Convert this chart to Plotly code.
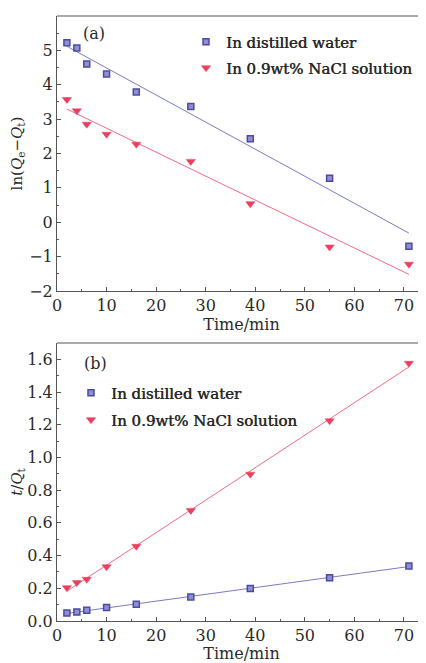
import numpy as np
import plotly.graph_objects as go

time_min = [2, 4, 6, 10, 16, 27, 39, 55, 71]
ln_water = [5.22, 5.07, 4.60, 4.31, 3.79, 3.37, 2.43, 1.28, -0.70]
ln_nacl = [3.57, 3.24, 2.85, 2.56, 2.27, 1.77, 0.54, -0.72, -1.22]
tq_water = [0.049, 0.055, 0.065, 0.082, 0.102, 0.147, 0.198, 0.265, 0.337]
tq_nacl = [0.204, 0.235, 0.255, 0.331, 0.457, 0.676, 0.898, 1.224, 1.576]
series_names = ["In distilled water", "In 0.9wt% NaCl solution"]
x_ticks = [0, 10, 20, 30, 40, 50, 60, 70]
ya_ticks = [-2, -1, 0, 1, 2, 3, 4, 5, 6]
yb_ticks = [0.0, 0.2, 0.4, 0.6, 0.8, 1.0, 1.2, 1.4, 1.6]

BLUE = "#4b4ba6"
BLUE_LINE = "#7b7bbf"
RED = "#ea3f5e"
RED_LINE = "#f26b80"
FONT = "DejaVu Serif"
TXT = "#2a2a2a"

def fit(x, y):
    k, b = np.polyfit(np.array(x, float), np.array(y, float), 1)
    xs = np.array([min(x), max(x)], float)
    return xs, k * xs + b

fig = go.Figure()

sq = dict(symbol="square", size=6, color="#8f8fd0", line=dict(color=BLUE, width=1.5))
tri = dict(symbol="triangle-down", size=8, color=RED, line=dict(color=RED, width=0.5))

# panel (a)
for yv, col in [(ln_water, BLUE_LINE), (ln_nacl, RED_LINE)]:
    fx, fy = fit(time_min, yv)
    fig.add_trace(go.Scatter(x=fx, y=fy, mode="lines", line=dict(color=col, width=1),
                             showlegend=False, xaxis="x", yaxis="y", hoverinfo="skip"))
fig.add_trace(go.Scatter(x=time_min, y=ln_water, mode="markers", marker=sq, name=series_names[0],
                         xaxis="x", yaxis="y", legend="legend"))
fig.add_trace(go.Scatter(x=time_min, y=ln_nacl, mode="markers", marker=tri, name=series_names[1],
                         xaxis="x", yaxis="y", legend="legend2"))

# panel (b)
for yv, col in [(tq_water, BLUE_LINE), (tq_nacl, RED_LINE)]:
    fx, fy = fit(time_min, yv)
    fig.add_trace(go.Scatter(x=fx, y=fy, mode="lines", line=dict(color=col, width=1),
                             showlegend=False, xaxis="x2", yaxis="y2", hoverinfo="skip"))
fig.add_trace(go.Scatter(x=time_min, y=tq_water, mode="markers", marker=sq, name=series_names[0],
                         xaxis="x2", yaxis="y2", legend="legend3"))
fig.add_trace(go.Scatter(x=time_min, y=tq_nacl, mode="markers", marker=tri, name=series_names[1],
                         xaxis="x2", yaxis="y2", legend="legend4"))

axis_common = dict(showline=True, linecolor="#555", linewidth=1, ticks="inside", ticklen=4,
                   tickcolor="#555", showgrid=False, zeroline=False, automargin=False,
                   tickfont=dict(family=FONT, size=16, color=TXT))
xr = [0, 74.45]
title_font = dict(family=FONT, size=16, color=TXT)
ytitle_font = dict(family=FONT, size=15, color=TXT)
fig.update_layout(
    xaxis=dict(axis_common, range=xr, tickvals=x_ticks, anchor="y", domain=[0, 1],
               minor=dict(dtick=5, ticks="inside", ticklen=2, tickcolor="#555"),
               title=dict(text="Time/min", font=title_font, standoff=4)),
    yaxis=dict(axis_common, range=[-2, 6], tickvals=ya_ticks, anchor="x", domain=[0.5455, 1],
               minor=dict(dtick=0.5, ticks="inside", ticklen=2, tickcolor="#555"),
               title=dict(text="ln(<i>Q</i><sub>e</sub>−<i>Q</i><sub>t</sub>)",
                          font=ytitle_font, standoff=6)),
    xaxis2=dict(axis_common, range=xr, tickvals=x_ticks, anchor="y2", domain=[0, 1],
                minor=dict(dtick=5, ticks="inside", ticklen=2, tickcolor="#555"),
                title=dict(text="Time/min", font=title_font, standoff=2)),
    yaxis2=dict(axis_common, range=[0, 1.7], tickvals=yb_ticks, tickformat=".1f", anchor="x2",
                domain=[0, 0.4595],
                minor=dict(dtick=0.1, ticks="inside", ticklen=2, tickcolor="#555"),
                title=dict(text="<i>t</i>/<i>Q</i><sub>t</sub>", font=ytitle_font, standoff=14)),
    width=418, height=655,
    margin=dict(l=49, r=0, t=8, b=42, autoexpand=False),
    paper_bgcolor="white", plot_bgcolor="white",
    shapes=[
        dict(type="line", xref="paper", yref="y domain", x0=0, x1=1, y0=1, y1=1,
             line=dict(color="#555", width=1)),
        dict(type="line", xref="paper", yref="y2 domain", x0=0, x1=1, y0=1, y1=1,
             line=dict(color="#555", width=1)),
    ],
    annotations=[
        dict(text="(a)", xref="paper", yref="paper", x=(94 - 57) / 369, y=(663 - 42 - 34) / 605,
             xanchor="center", yanchor="middle",
             showarrow=False, font=dict(family=FONT, size=16, color=TXT)),
        dict(text="(b)", xref="paper", yref="paper", x=(95 - 57) / 369, y=(663 - 42 - 363) / 605,
             xanchor="center", yanchor="middle",
             showarrow=False, font=dict(family=FONT, size=16, color=TXT)),
    ],
)

leg_font = dict(family=FONT, size=15, color=TXT, shadow="0.5px 0px 0px #2a2a2a")
def leg(px, py):
    return dict(x=(px - 57) / 369, y=(663 - 42 - py) / 605, xanchor="left", yanchor="middle",
                bgcolor="rgba(0,0,0,0)", font=leg_font, itemwidth=30)
fig.update_layout(legend=leg(186, 42), legend2=leg(186, 68),
                  legend3=leg(71, 393), legend4=leg(71, 420))

fig.write_html("out.html")
